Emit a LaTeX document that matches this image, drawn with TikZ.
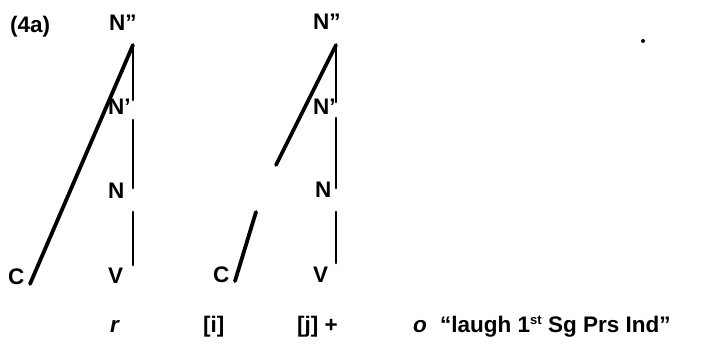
\documentclass[tikz,border=0pt]{standalone}
\usepackage{fontspec}
\setmainfont{Liberation Sans}
\begin{document}
\begin{tikzpicture}[x=1pt,y=-1pt,
  lbl/.style={anchor=base west,inner sep=0pt,font=\fontsize{22.5}{26}\selectfont\bfseries},
  diag/.style={line width=3.8pt,line cap=round},
  vert/.style={line width=2.8pt,line cap=round}]
\useasboundingbox (0,0) rectangle (721,344);
% labels
\node[lbl] (ex) at (10,33) {(4a)};
\node[lbl] (aNpp) at (109,31) {N"};
\node[lbl] (aNp) at (108,115) {N'};
\node[lbl] (aN) at (108,199) {N};
\node[lbl] (aV) at (108,284) {V};
\node[lbl] (aC) at (8,285) {C};
\node[lbl] (bNpp) at (313,30) {N"};
\node[lbl] (bNp) at (313,115) {N'};
\node[lbl] (bN) at (315,198) {N};
\node[lbl] (bV) at (313,283) {V};
\node[lbl] (bC) at (213,283) {C};
\node[lbl] (gr) at (110,333) {\itshape r};
\node[lbl] (gi) at (203,333) {[i]};
\node[lbl] (gj) at (297,333) {[j] +};
\node[lbl] (go) at (413,333) {\itshape o};
\node[lbl] (gloss) at (440,333) {“laugh 1\raisebox{0.75ex}{\fontsize{13}{14}\selectfont st} Sg Prs Ind”};
% tree 1 coordinates
\coordinate (a0) at (133,45);
\coordinate (a1) at (133,100);
\coordinate (a2) at (133,120);
\coordinate (a3) at (133,188);
\coordinate (a4) at (133,212);
\coordinate (a5) at (133,265);
\coordinate (ac) at (30,284);
\draw[vert] (a0) -- (a1);
\draw[vert] (a2) -- (a3);
\draw[vert] (a4) -- (a5);
\draw[diag] (a0) -- (ac);
% tree 2 coordinates
\coordinate (b0) at (336,45);
\coordinate (b1) at (336,102);
\coordinate (b2) at (336,118);
\coordinate (b3) at (336,188);
\coordinate (b4) at (336,212);
\coordinate (b5) at (336,263);
\coordinate (bu) at (276,165);
\coordinate (bl) at (256,212);
\coordinate (bc) at (235,281);
\draw[vert] (b0) -- (b1);
\draw[vert] (b2) -- (b3);
\draw[vert] (b4) -- (b5);
\draw[diag] (b0) -- (bu);
\draw[diag] (bl) -- (bc);
% stray dot
\fill (643,41) circle (2pt);
\end{tikzpicture}
\end{document}
